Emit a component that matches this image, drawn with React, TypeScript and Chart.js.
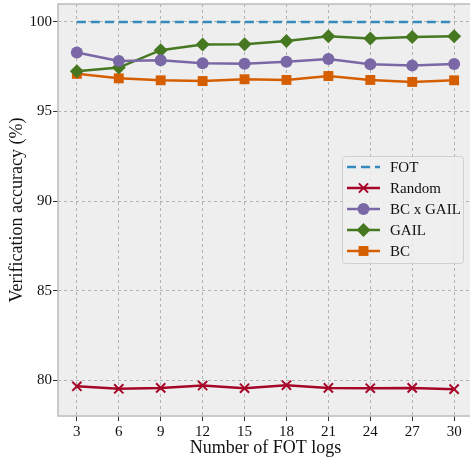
import React, { useEffect, useRef } from "react";
import { Chart, registerables } from "chart.js";

Chart.register(...registerables);

const logCounts = [3, 6, 9, 12, 15, 18, 21, 24, 27, 30];
const fotAcc = [100, 100, 100, 100, 100, 100, 100, 100, 100, 100];
const randomAcc = [79.66, 79.52, 79.57, 79.7, 79.55, 79.72, 79.57, 79.55, 79.57, 79.5];
const bcGailAcc = [98.29, 97.82, 97.86, 97.69, 97.67, 97.77, 97.93, 97.64, 97.56, 97.65];
const gailAcc = [97.25, 97.45, 98.42, 98.74, 98.75, 98.94, 99.2, 99.07, 99.16, 99.2];
const bcAcc = [97.1, 96.85, 96.74, 96.7, 96.8, 96.76, 96.98, 96.76, 96.65, 96.74];
const yTicks = [80, 85, 90, 95, 100];

const SERIF = "'Liberation Serif', 'DejaVu Serif', serif";

type Series = {
  label: string;
  values: number[];
  color: string;
  style: string;
  radius: number;
  dash?: number[];
};

const series: Series[] = [
  { label: "FOT", values: fotAcc, color: "#348ABD", style: "none", radius: 0, dash: [9, 5] },
  { label: "Random", values: randomAcc, color: "#A60628", style: "crossRot", radius: 6.5 },
  { label: "BC x GAIL", values: bcGailAcc, color: "#7A68A6", style: "circle", radius: 6 },
  { label: "GAIL", values: gailAcc, color: "#467821", style: "rectRot", radius: 7 },
  { label: "BC", values: bcAcc, color: "#D55E00", style: "rect", radius: 7 },
];

function drawMarker(ctx: CanvasRenderingContext2D, s: Series, x: number, y: number) {
  const r = s.radius;
  ctx.save();
  ctx.fillStyle = s.color;
  ctx.strokeStyle = s.color;
  ctx.setLineDash([]);
  if (s.style === "circle") {
    ctx.beginPath();
    ctx.arc(x, y, r, 0, Math.PI * 2);
    ctx.fill();
  } else if (s.style === "rect") {
    const h = r * Math.SQRT1_2;
    ctx.fillRect(x - h, y - h, 2 * h, 2 * h);
  } else if (s.style === "rectRot") {
    ctx.beginPath();
    ctx.moveTo(x, y - r);
    ctx.lineTo(x + r, y);
    ctx.lineTo(x, y + r);
    ctx.lineTo(x - r, y);
    ctx.closePath();
    ctx.fill();
  } else if (s.style === "crossRot") {
    const h = r * Math.SQRT1_2;
    ctx.lineWidth = 2;
    ctx.beginPath();
    ctx.moveTo(x - h, y - h);
    ctx.lineTo(x + h, y + h);
    ctx.moveTo(x + h, y - h);
    ctx.lineTo(x - h, y + h);
    ctx.stroke();
  }
  ctx.restore();
}

const panelPlugin = {
  id: "panel",
  beforeDraw(chart: any) {
    const { ctx, chartArea: a } = chart;
    ctx.save();
    ctx.fillStyle = "#eeeeee";
    ctx.fillRect(a.left, a.top, a.right - a.left, a.bottom - a.top);
    ctx.restore();
  },
  afterDatasetsDraw(chart: any) {
    const { ctx, chartArea: a } = chart;
    ctx.save();
    ctx.strokeStyle = "#bcbcbc";
    ctx.lineWidth = 1.5;
    ctx.strokeRect(a.left, a.top, a.right - a.left, a.bottom - a.top);
    ctx.restore();
  },
  afterDraw(chart: any) {
    const { ctx } = chart;
    const bx = 342, by = 156, bw = 121, bh = 107;
    ctx.save();
    ctx.fillStyle = "rgba(238,238,238,0.85)";
    ctx.strokeStyle = "#d0d0d0";
    ctx.lineWidth = 1;
    ctx.beginPath();
    ctx.roundRect(bx + 0.5, by + 0.5, bw, bh, 3);
    ctx.fill();
    ctx.stroke();
    ctx.font = `15px ${SERIF}`;
    ctx.textBaseline = "middle";
    ctx.textAlign = "left";
    series.forEach((s, i) => {
      const y = by + 11 + i * 21;
      ctx.strokeStyle = s.color;
      ctx.lineWidth = 2.5;
      ctx.setLineDash(s.dash || []);
      ctx.beginPath();
      ctx.moveTo(347, y);
      ctx.lineTo(380, y);
      ctx.stroke();
      ctx.setLineDash([]);
      drawMarker(ctx, s, 363.5, y);
      ctx.fillStyle = "#111111";
      ctx.fillText(s.label, 390, y + 1);
    });
    ctx.restore();
  },
};

export default function App() {
  const canvasRef = useRef<HTMLCanvasElement | null>(null);

  useEffect(() => {
    const canvas = canvasRef.current;
    if (!canvas) return;
    const chart = new Chart(canvas, {
      type: "line",
      data: {
        datasets: series.map((s) => ({
          label: s.label,
          data: logCounts.map((x, i) => ({ x, y: s.values[i] })),
          borderColor: s.color,
          backgroundColor: s.color,
          borderWidth: 2.5,
          borderDash: s.dash || [],
          pointStyle: s.style === "none" ? false : (s.style as any),
          pointRadius: s.radius,
          pointBorderWidth: s.style === "crossRot" ? 2 : 0,
          pointBorderColor: s.color,
          pointBackgroundColor: s.color,
          tension: 0,
        })),
      },
      plugins: [panelPlugin],
      options: {
        animation: false,
        responsive: false,
        maintainAspectRatio: false,
        layout: { autoPadding: false, padding: { top: 4, right: 0, left: 0, bottom: 0 } },
        plugins: { legend: { display: false }, tooltip: { enabled: false } },
        scales: {
          x: {
            type: "linear",
            min: 1.65,
            max: 31.35,
            afterBuildTicks: (scale: any) => {
              scale.ticks = logCounts.map((v) => ({ value: v }));
            },
            afterFit: (scale: any) => {
              scale.height = 43;
              scale.paddingLeft = 0;
              scale.paddingRight = 0;
            },
            ticks: {
              color: "#111111",
              font: { family: SERIF, size: 15 },
              padding: 2,
              maxRotation: 0,
              autoSkip: false,
            },
            grid: {
              color: "#b2b2b2",
              lineWidth: 1,
              tickLength: 5,
              tickColor: "#333333",
              tickWidth: 1,
            },
            border: { display: false, dash: [3, 3] },
            title: {
              display: true,
              text: "Number of FOT logs",
              color: "#111111",
              font: { family: SERIF, size: 18 },
              padding: { top: 0, bottom: 0 },
            },
          },
          y: {
            type: "linear",
            min: 78,
            max: 101,
            afterBuildTicks: (scale: any) => {
              scale.ticks = yTicks.map((v) => ({ value: v }));
            },
            afterFit: (scale: any) => {
              scale.width = 58;
              scale.paddingTop = 0;
              scale.paddingBottom = 0;
            },
            ticks: {
              color: "#111111",
              font: { family: SERIF, size: 15 },
              padding: 1,
            },
            grid: {
              color: "#b2b2b2",
              lineWidth: 1,
              tickLength: 5,
              tickColor: "#333333",
              tickWidth: 1,
            },
            border: { display: false, dash: [3, 3] },
            title: {
              display: true,
              text: "Verification accuracy (%)",
              color: "#111111",
              font: { family: SERIF, size: 18 },
              padding: { top: 6, bottom: 2 },
            },
          },
        },
      },
    });
    return () => chart.destroy();
  }, []);

  return (
    <div
      style={{
        position: "fixed",
        left: 0,
        top: 0,
        width: 470,
        height: 459,
        overflow: "hidden",
        background: "#ffffff",
      }}
    >
      <canvas ref={canvasRef} width={473} height={459} style={{ width: 473, height: 459, display: "block" }} />
    </div>
  );
}
